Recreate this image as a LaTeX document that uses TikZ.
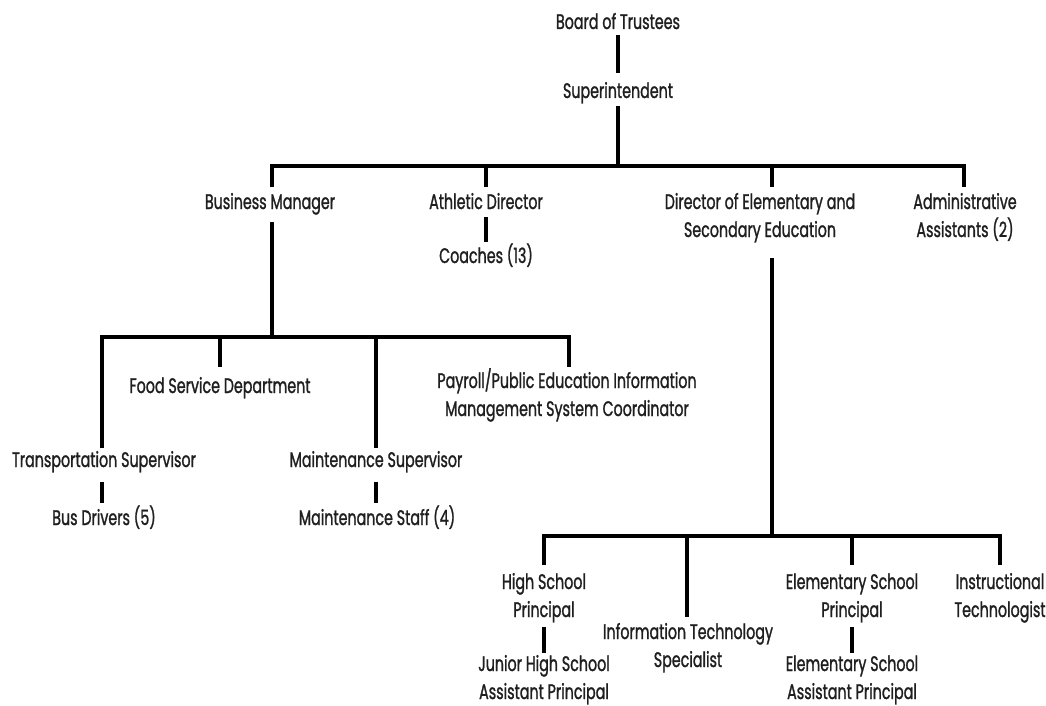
\documentclass[tikz,border=0pt]{standalone}
\usepackage{fontspec}
\setmainfont[FakeStretch=0.68,FakeBold=1.2]{Poppins}
\begin{document}
\begin{tikzpicture}[x=1pt,y=-1pt,
  lbl/.style={inner sep=0pt, align=center, anchor=base, text=black!88,
    font=\fontsize{21}{28}\selectfont},
  conn/.style={line width=3.4pt, black}]
\useasboundingbox (0,0) rectangle (1046,706);
% nodes (anchor base = baseline of the last line)
\node[lbl] (bot) at (618,29) {Board of Trustees};
\node[lbl] (sup) at (618,98) {Superintendent};
\node[lbl] (bm) at (270,209) {Business Manager};
\node[lbl] (ad) at (486,209) {Athletic Director};
\node[lbl] (dir) at (760,237) {Director of Elementary and\\Secondary Education};
\node[lbl] (adm) at (965,237) {Administrative\\Assistants (2)};
\node[lbl] (coa) at (486,263) {Coaches (13)};
\node[lbl] (food) at (220,393) {Food Service Department};
\node[lbl] (pay) at (567,416) {Payroll/Public Education Information\\Management System Coordinator};
\node[lbl] (trn) at (104,467) {Transportation Supervisor};
\node[lbl] (msu) at (376,467) {Maintenance Supervisor};
\node[lbl] (bus) at (104,525) {Bus Drivers (5)};
\node[lbl] (mst) at (377,525) {Maintenance Staff (4)};
\node[lbl] (hsp) at (544,617) {High School\\Principal};
\node[lbl] (its) at (688,667) {Information Technology\\Specialist};
\node[lbl] (esp) at (852,617) {Elementary School\\Principal};
\node[lbl] (ins) at (1000,617) {Instructional\\Technologist};
\node[lbl] (jhs) at (544,699) {Junior High School\\Assistant Principal};
\node[lbl] (eap) at (852,699) {Elementary School\\Assistant Principal};
% connector points
\coordinate (botB) at (618,35);  \coordinate (supT) at (618,73);
\coordinate (supB) at (618,106); \coordinate (j1) at (618,166);
\coordinate (bmT) at (272,187);  \coordinate (adT) at (486,187);
\coordinate (dirT) at (772,187); \coordinate (admT) at (964,187);
\coordinate (adB) at (486,217);  \coordinate (coaT) at (486,242);
\coordinate (bmB) at (272,222);  \coordinate (j2) at (272,337);
\coordinate (trnT) at (102,448); \coordinate (foodT) at (220,367);
\coordinate (msuT) at (376,448); \coordinate (payT) at (569,367);
\coordinate (trnB) at (102,482); \coordinate (busT) at (102,503);
\coordinate (msuB) at (376,482); \coordinate (mstT) at (376,503);
\coordinate (dirB) at (772,258); \coordinate (j3) at (772,536);
\coordinate (hspT) at (544,565); \coordinate (itsT) at (687,617);
\coordinate (espT) at (852,565); \coordinate (insT) at (1000,565);
\coordinate (hspB) at (544,627); \coordinate (jhsT) at (544,653);
\coordinate (espB) at (852,627); \coordinate (eapT) at (852,653);
% connectors
\draw[conn] (botB) -- (supT);
\draw[conn] (supB) -- (j1);
\draw[conn] (bmT) |- (j1) -| (admT);
\draw[conn] (adT) -- (adT |- j1);
\draw[conn] (dirT) -- (dirT |- j1);
\draw[conn] (adB) -- (coaT);
\draw[conn] (bmB) -- (j2);
\draw[conn] (trnT) |- (j2) -| (payT);
\draw[conn] (foodT) -- (foodT |- j2);
\draw[conn] (msuT) -- (msuT |- j2);
\draw[conn] (trnB) -- (busT);
\draw[conn] (msuB) -- (mstT);
\draw[conn] (dirB) -- (j3);
\draw[conn] (hspT) |- (j3) -| (insT);
\draw[conn] (itsT) -- (itsT |- j3);
\draw[conn] (espT) -- (espT |- j3);
\draw[conn] (hspB) -- (jhsT);
\draw[conn] (espB) -- (eapT);
\end{tikzpicture}
\end{document}
